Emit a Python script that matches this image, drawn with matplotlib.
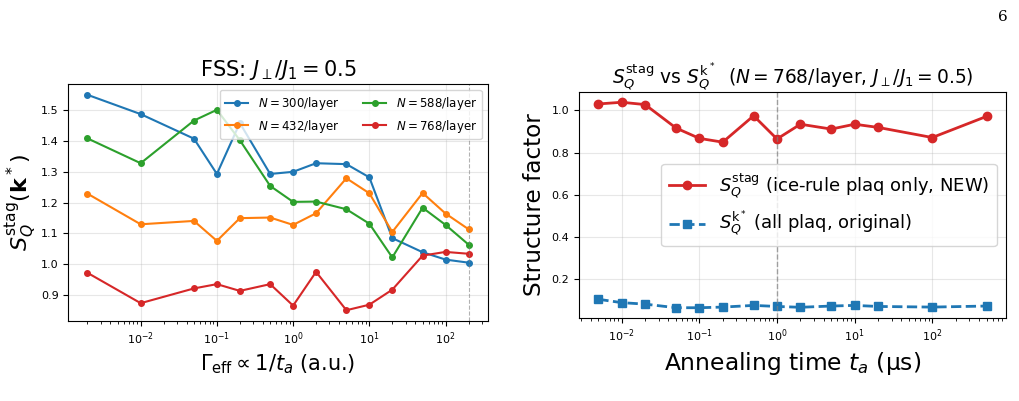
import matplotlib
matplotlib.use('Agg')
import matplotlib.pyplot as plt

# left panel: finite-size scaling vs effective rate
gamma_eff = [2e-3, 1e-2, 5e-2, 1e-1, 2e-1, 5e-1, 1, 2, 5, 10, 20, 50, 100, 200]
s_300 = [1.551, 1.488, 1.408, 1.293, 1.459, 1.293, 1.300, 1.328, 1.325, 1.282, 1.084, 1.038, 1.014, 1.004]
s_432 = [1.229, 1.129, 1.140, 1.075, 1.149, 1.151, 1.127, 1.165, 1.279, 1.230, 1.104, 1.231, 1.164, 1.113]
s_588 = [1.409, 1.328, 1.467, 1.502, 1.403, 1.254, 1.202, 1.203, 1.178, 1.131, 1.021, 1.183, 1.127, 1.063]
s_768 = [0.971, 0.872, 0.920, 0.934, 0.912, 0.934, 0.864, 0.974, 0.849, 0.867, 0.916, 1.027, 1.039, 1.033]
sizes = [300, 432, 588, 768]
gamma_ref = 200

# right panel: comparison vs annealing time
t_anneal = [5e-3, 1e-2, 2e-2, 5e-2, 1e-1, 2e-1, 5e-1, 1, 2, 5, 10, 20, 100, 500]
s_stag = [1.031, 1.039, 1.028, 0.917, 0.868, 0.850, 0.975, 0.865, 0.935, 0.912, 0.935, 0.920, 0.872, 0.972]
s_kstar = [0.106, 0.090, 0.083, 0.066, 0.066, 0.069, 0.077, 0.072, 0.068, 0.074, 0.077, 0.072, 0.069, 0.074]
t_ref = 1

colors = ['#1f77b4', '#ff7f0e', '#2ca02c', '#d62728']

fig = plt.figure(figsize=(10.2, 4.01), dpi=100)
ax1 = fig.add_axes([0.067, 0.1995, 0.411, 0.591])
ax2 = fig.add_axes([0.5676, 0.207, 0.4186, 0.5636])

for n, s, c in zip(sizes, [s_300, s_432, s_588, s_768], colors):
    ax1.plot(gamma_eff, s, '-o', color=c, lw=1.5, markersize=4, label=f'$N={n}$/layer')
ax1.axvline(gamma_ref, color='gray', ls='--', lw=0.8, alpha=0.6)
ax1.set_xscale('log')
ax1.set_title(r'FSS: $J_\perp/J_1=0.5$', fontsize=15)
ax1.set_xlabel(r'$\Gamma_{\rm eff}\propto 1/t_a$ (a.u.)', fontsize=15)
ax1.set_ylabel(r'$S_Q^{\rm stag}(\mathbf{k}^*)$', fontsize=16, labelpad=1)
ax1.tick_params(labelsize=8)
ax1.grid(True, alpha=0.3)
ax1.legend(loc='upper right', ncol=2, fontsize=8.5, framealpha=0.8)

ax2.plot(t_anneal, s_stag, '-o', color='#d62728', lw=2, markersize=6,
         label=r'$S_Q^{\rm stag}$ (ice-rule plaq only, NEW)')
ax2.plot(t_anneal, s_kstar, '--s', color='#1f77b4', lw=2, markersize=6,
         label=r'$S_Q^{\mathrm{k}^*}$ (all plaq, original)')
ax2.axvline(t_ref, color='gray', ls='--', lw=1, alpha=0.7)
ax2.set_xscale('log')
ax2.set_title(r'$S_Q^{\rm stag}$ vs $S_Q^{\mathrm{k}^*}$  ($N=768$/layer, $J_\perp/J_1=0.5$)', fontsize=13.4)
ax2.set_xlabel(r'Annealing time $t_a$ (μs)', fontsize=16.8)
ax2.set_ylabel('Structure factor', fontsize=16.7)
ax2.tick_params(labelsize=8)
ax2.grid(True, alpha=0.3)
ax2.legend(loc='center right', fontsize=13, framealpha=0.8)

fig.text(0.988, 0.975, '6', family='DejaVu Serif', fontsize=11, ha='right', va='top')

fig.savefig('out.png', dpi=100)
